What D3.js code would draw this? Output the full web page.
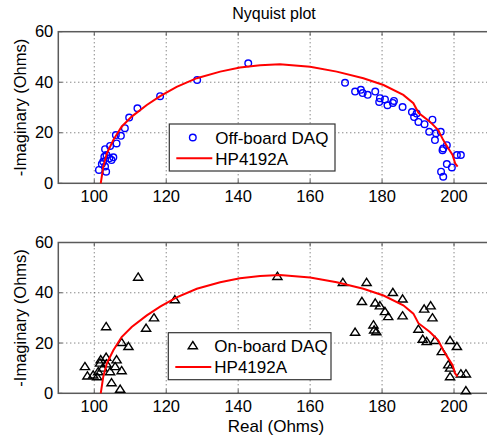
<!DOCTYPE html>
<html>
<head>
<meta charset="utf-8">
<script src="https://cdn.jsdelivr.net/npm/d3@7"></script>
<style>
body { margin: 0; background: #fff; }
text { font-family: "Liberation Sans", Arial, sans-serif; fill: #000; }
.grid line { stroke: #555; stroke-width: 1; stroke-dasharray: 1,3; }
.box { fill: none; stroke: #5a5a5a; stroke-width: 1.5; }
</style>
</head>
<body>
<div id="plot"></div>
<script>

// HP4192A reference curve (real, -imag), shared by both panels
var hpReal = [101.8, 102.5, 103.5, 105.3, 107.6, 110.4, 114.6, 118.3, 122.9, 128.5, 135, 140.5, 146.1, 151.6,
              160, 167.4, 174.8, 180.4, 185.9, 188.7, 190.1, 193.3, 195.6, 197, 198.4, 199.6, 200.3, 201];
var hpImag = [0, 6.6, 11.9, 17.1, 22.4, 26.4, 31, 34.5, 38.2, 41.6, 44.2, 45.8, 46.7, 47.1,
              46.1, 44.2, 41.6, 38.9, 35, 31.7, 27.9, 24.4, 21.1, 17.1, 13.9, 11.2, 7.9, 6.6];

// Off-board DAQ
var offReal = [101.3, 102.1, 102.5, 103, 103.3, 102.8, 103.4, 104.2, 104.8, 105.3, 104.4, 103, 106.2, 106,
               107.4, 108.5, 109.7, 112, 118.3, 128.6, 142.8,
               169.7, 172.5, 174.1, 174.6, 176, 178.1, 179.4, 180.8, 179.2, 181.5, 183, 183.3, 185.7, 188.3,
               188.9, 189.6, 190.1, 191.8, 194, 193.1, 195, 196.3, 194.7, 197, 196.8, 198, 200.8, 201.9,
               198, 199.4, 196.4, 197];
var offImag = [5.3, 7.6, 8.6, 6.6, 4.6, 10.5, 11.2, 9.9, 9.2, 10.3, 14.8, 13.5, 15.8, 19.1,
               18.8, 21.8, 26, 29.7, 34.5, 40.9, 47.5,
               39.8, 36.3, 37, 35.7, 35, 36.3, 33.7, 33.2, 32.2, 30.9, 31.8, 32.6, 30.2, 28.2,
               26.2, 27.6, 24.3, 23.4, 25.2, 20.4, 19.8, 20.4, 17.1, 13.8, 13.1, 15.1, 11.2, 11.2,
               7.6, 6.3, 4.6, 2.6];

// On-board DAQ
var onReal = [112.2, 122.4, 116.6, 114.4, 103.3, 107.6, 109.5, 97.4, 98.1, 99.7, 101.1, 101.8, 103.3, 103.4,
              102.3, 104.4, 105.8, 106.2, 107.6, 104.8, 107.2, 100.8, 101.6, 150.9,
              169.1, 175.7, 183, 174.4, 178.1, 179.4, 180.8, 181.7, 185.7, 185.7, 191.7, 193.5, 194,
              190.1, 172.5, 177.6, 177.8, 178.4, 191.3, 192.4, 194.7, 198.9, 200.8, 196.6, 198.4,
              198.9, 198.9, 201.9, 203.3, 203.3];
var onImag = [46.2, 37.2, 30, 25.9, 26.5, 20.2, 18.6, 10.6, 6.9, 7.3, 8.6, 13.3, 14.3, 11.7,
              10, 8.6, 10.6, 13.3, 9, 4.2, 1.6, 6.6, 12, 46.5,
              44.1, 44.1, 40.1, 36.5, 35.9, 34.8, 32.5, 30.5, 37.5, 30.8, 33.5, 34.8, 30,
              25.5, 24.3, 27.2, 25.2, 24.5, 21.5, 20.6, 21, 21, 18.6, 16.6, 11.3,
              10, 6.6, 7.7, 7.7, 1];

var xTicks = [100, 120, 140, 160, 180, 200];
var yTicks = [0, 20, 40, 60];
var xDom = [90, 210];
var yDom = [0, 60];

var W = 487, H = 439;
var left = 58.3, right = 490;

var svg = d3.select('#plot').append('svg')
  .attr('width', W)
  .attr('height', H);

var x = d3.scaleLinear().domain(xDom).range([left, right]);

function zip(a, b) {
  return a.map(function(v, i) { return [v, b[i]]; });
}

var triangle = 'M0,-4.2L4.6,3L-4.6,3Z';

function drawPanel(p) {
  var y = d3.scaleLinear().domain(yDom).range([p.bottom, p.top]);
  var g = svg.append('g');

  // dotted grid
  var grid = g.append('g').attr('class', 'grid');
  grid.selectAll('.vx').data(xTicks).enter().append('line')
    .attr('x1', function(d) { return x(d); })
    .attr('x2', function(d) { return x(d); })
    .attr('y1', p.bottom)
    .attr('y2', p.top);
  grid.selectAll('.hy').data(yTicks.slice(1, -1)).enter().append('line')
    .attr('x1', left)
    .attr('x2', right)
    .attr('y1', function(d) { return y(d); })
    .attr('y2', function(d) { return y(d); });

  // inner ticks on the box
  var tk = g.append('g').attr('stroke', '#555').attr('stroke-width', 1);
  xTicks.forEach(function(d) {
    tk.append('line').attr('x1', x(d)).attr('x2', x(d)).attr('y1', p.bottom).attr('y2', p.bottom - 4);
    tk.append('line').attr('x1', x(d)).attr('x2', x(d)).attr('y1', p.top).attr('y2', p.top + 4);
  });
  yTicks.forEach(function(d) {
    tk.append('line').attr('x1', left).attr('x2', left + 4).attr('y1', y(d)).attr('y2', y(d));
  });

  g.append('rect').attr('class', 'box')
    .attr('x', left).attr('y', p.top)
    .attr('width', right - left).attr('height', p.bottom - p.top);

  // tick labels
  g.selectAll('.xl').data(xTicks).enter().append('text')
    .attr('x', function(d) { return x(d); })
    .attr('y', p.bottom + 19)
    .attr('text-anchor', 'middle')
    .style('font-size', '16.5px')
    .text(function(d) { return d; });
  g.selectAll('.yl').data(yTicks).enter().append('text')
    .attr('x', left - 5)
    .attr('y', function(d) { return y(d) + 5.5; })
    .attr('text-anchor', 'end')
    .style('font-size', '16.5px')
    .text(function(d) { return d; });

  // y label
  g.append('text')
    .attr('transform', 'translate(26,' + ((p.top + p.bottom) / 2) + ') rotate(-90)')
    .attr('text-anchor', 'middle')
    .style('font-size', '16.5px')
    .text('-Imaginary (Ohms)');

  // measured points
  var pts = zip(p.real, p.imag);
  if (p.marker === 'circle') {
    g.selectAll('.pt').data(pts).enter().append('circle')
      .attr('cx', function(d) { return x(d[0]); })
      .attr('cy', function(d) { return y(d[1]); })
      .attr('r', 3.3)
      .style('fill', 'none')
      .style('stroke', '#0000ff')
      .style('stroke-width', 1.4);
  } else {
    g.selectAll('.pt').data(pts).enter().append('path')
      .attr('d', triangle)
      .attr('transform', function(d) { return 'translate(' + x(d[0]) + ',' + y(d[1]) + ')'; })
      .style('fill', 'none')
      .style('stroke', '#000')
      .style('stroke-width', 1.4);
  }

  // reference curve
  var line = d3.line()
    .x(function(d) { return x(d[0]); })
    .y(function(d) { return y(d[1]); });
  g.append('path')
    .datum(zip(hpReal, hpImag))
    .attr('d', line)
    .style('fill', 'none')
    .style('stroke', '#ff0000')
    .style('stroke-width', 2);

  // legend
  var L = p.legend;
  var lg = g.append('g').attr('transform', 'translate(' + L.x + ',' + L.y + ')');
  lg.append('rect')
    .attr('width', L.w).attr('height', 47)
    .style('fill', '#fff').style('stroke', '#333').style('stroke-width', 1.2);
  if (p.marker === 'circle') {
    lg.append('circle').attr('cx', 23.5).attr('cy', 13.5).attr('r', 3.3)
      .style('fill', 'none').style('stroke', '#0000ff').style('stroke-width', 1.4);
  } else {
    lg.append('path').attr('d', triangle).attr('transform', 'translate(24.5,13)')
      .style('fill', 'none').style('stroke', '#000').style('stroke-width', 1.4);
  }
  lg.append('line').attr('x1', 7).attr('x2', 43).attr('y1', 34.3).attr('y2', 34.3)
    .style('stroke', '#ff0000').style('stroke-width', 2);
  lg.append('text').attr('x', 46).attr('y', 19.5).style('font-size', '17px').text(p.label);
  lg.append('text').attr('x', 46).attr('y', 40.5).style('font-size', '17px').text('HP4192A');
}

drawPanel({top: 31.7, bottom: 183.3, real: offReal, imag: offImag, marker: 'circle',
           label: 'Off-board DAQ', legend: {x: 169.3, y: 124, w: 165.7}});
drawPanel({top: 242.5, bottom: 393.3, real: onReal, imag: onImag, marker: 'triangle',
           label: 'On-board DAQ', legend: {x: 168.3, y: 332.7, w: 162.7}});

svg.append('text')
  .attr('x', 274).attr('y', 19)
  .attr('text-anchor', 'middle')
  .style('font-size', '16px')
  .text('Nyquist plot');

svg.append('text')
  .attr('x', 276).attr('y', 432)
  .attr('text-anchor', 'middle')
  .style('font-size', '17px')
  .text('Real (Ohms)');
</script>
</body>
</html>
